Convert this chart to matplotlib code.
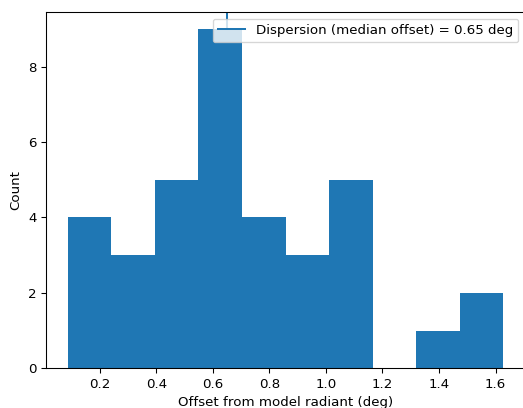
import numpy as np
import matplotlib
matplotlib.use("Agg")
import matplotlib.pyplot as plt

# Data
bin_low = 0.087
bin_high = 1.627
counts = [4, 3, 5, 9, 4, 3, 5, 0, 1, 2]
median_offset = 0.65
xlabel = "Offset from model radiant (deg)"
ylabel = "Count"

edges = np.linspace(bin_low, bin_high, len(counts) + 1)
centers = 0.5 * (edges[:-1] + edges[1:])

DPI = 96.5
W, H = 523, 408
fig = plt.figure(figsize=(W / DPI, H / DPI), dpi=DPI)
left, right, top, bottom = 46, 525, 12, 368.3
ax = fig.add_axes([left / W, (H - bottom) / H, (right - left) / W, (bottom - top) / H])

ax.axvline(median_offset, label=f"Dispersion (median offset) = {median_offset:.2f} deg")
ax.hist(centers, bins=edges, weights=counts)
ax.set_xlabel(xlabel)
ax.set_ylabel(ylabel)
ax.legend(loc="upper right")

fig.savefig("out.png", dpi=DPI)
